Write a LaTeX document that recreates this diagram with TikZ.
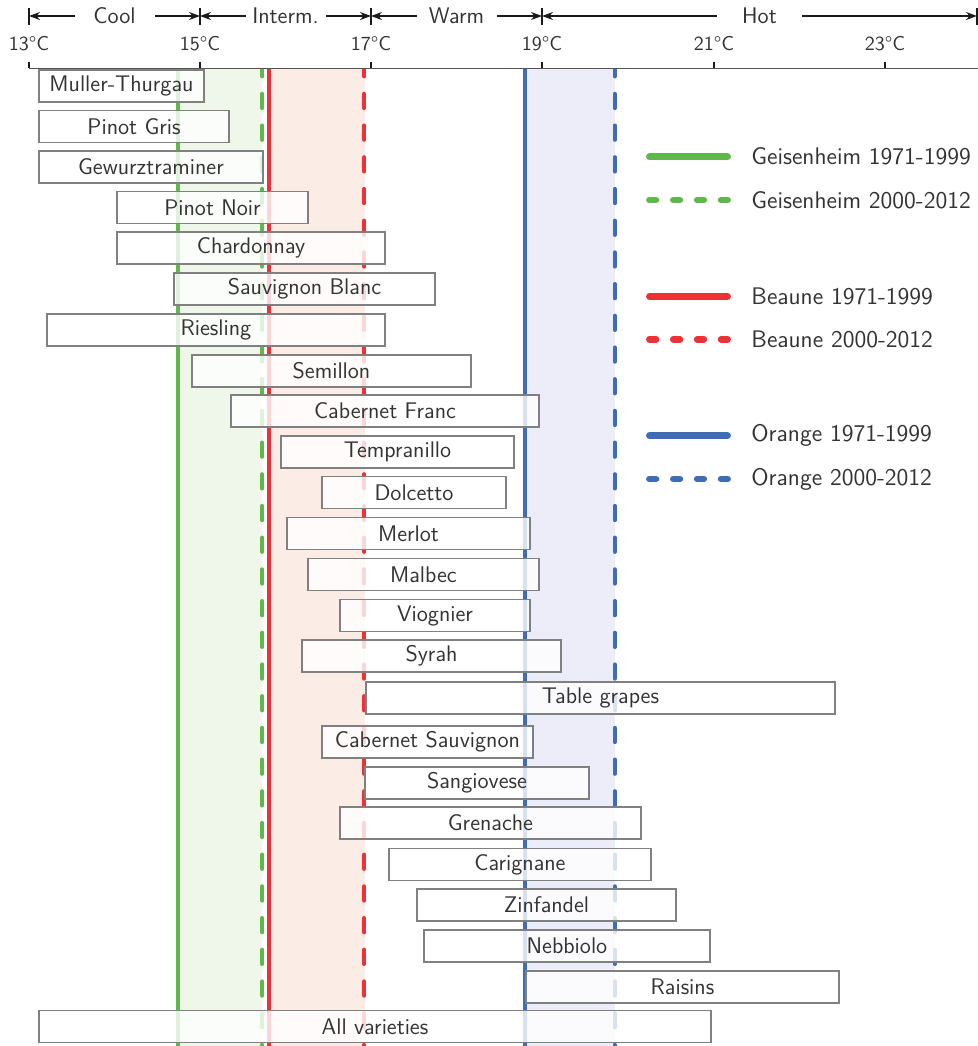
\documentclass[tikz,border=0pt]{standalone}
\usetikzlibrary{arrows.meta}
\definecolor{gline}{RGB}{94,185,74}
\definecolor{rline}{RGB}{237,50,55}
\definecolor{bline}{RGB}{62,108,181}
\definecolor{gband}{RGB}{239,247,234}
\definecolor{rband}{RGB}{252,236,230}
\definecolor{bband}{RGB}{236,237,248}
\definecolor{txt}{RGB}{51,51,51}
\definecolor{boxc}{RGB}{128,128,128}
\definecolor{axisc}{RGB}{85,85,85}
\definecolor{hdrc}{RGB}{26,26,26}
\newcommand\grape[5]{\node[grape, minimum width={(#3-#2)*0.5pt}] (#1) at ({(#2+#3)/2},#4) {#5};}
\begin{document}
\begin{tikzpicture}[x=0.5pt,y=-0.5pt,
  every node/.style={font=\sffamily\fontsize{11.3}{13}\selectfont, text=txt},
  grape/.style={draw=boxc, line width=0.7pt, fill=white, fill opacity=0.8, text opacity=1, draw opacity=1, inner sep=0pt, minimum height=16pt},
  solidln/.style={line width=1.9pt},
  dashln/.style={line width=1.9pt, line cap=round, dash pattern=on 7.25pt off 8.6pt},
  legsolid/.style={line width=3.35pt, line cap=round},
  legdash/.style={line width=3.35pt, line cap=round, dash pattern=on 3.3pt off 8.65pt},
  legtext/.style={anchor=west, inner sep=0pt, font=\sffamily\fontsize{12}{14}\selectfont},
  hdr/.style={draw=hdrc, line width=0.65pt},
  hdrarrow/.style={hdr, {Stealth[length=5.5pt,width=4pt]}-{Stealth[length=5.5pt,width=4pt]}},
  zone/.style={midway, fill=white, minimum width=40pt, inner sep=0pt},
  ticklab/.style={anchor=base, font=\sffamily\fontsize{10}{12}\selectfont},
  tickst/.style={draw=hdrc, line width=0.6pt},
  axisst/.style={draw=axisc, line width=0.75pt}
]
\useasboundingbox (0,0) rectangle (978,1046);
% bands
\fill[gband] (177.7,68.3) rectangle (262.3,1046);
\fill[rband] (268.7,68.3) rectangle (365,1046);
\fill[bband] (525,68.3) rectangle (614.7,1046);
% lines
\begin{scope}
\clip (0,68.6) rectangle (978,1046);
\draw[solidln, gline] (177.7,62) -- (177.7,1050);
\draw[dashln, gline] (262.3,62) -- (262.3,1050);
\draw[solidln, rline] (268.7,62) -- (268.7,1050);
\draw[dashln, rline] (364.3,62) -- (364.3,1050);
\draw[solidln, bline] (525,62) -- (525,1050);
\draw[dashln, bline] (614.7,62) -- (614.7,1050);
\end{scope}
% grape varieties
\grape{mt}{39}{204}{86}{Muller-Thurgau}
\grape{pg}{39}{229}{126.5}{Pinot Gris}
\grape{gw}{39}{263}{167}{Gewurztraminer}
\grape{pn}{117}{308}{207.5}{Pinot Noir}
\grape{ch}{117}{385}{248}{Chardonnay}
\grape{sb}{174}{435}{289}{Sauvignon Blanc}
\grape{ri}{47}{385}{330}{Riesling}
\grape{se}{192}{471}{371}{Semillon}
\grape{cf}{231}{539}{411}{Cabernet Franc}
\grape{te}{281}{514}{452}{Tempranillo}
\grape{do}{322}{506}{492.5}{Dolcetto}
\grape{me}{287}{530}{533.5}{Merlot}
\grape{ma}{308}{539}{574.5}{Malbec}
\grape{vi}{340}{530}{615.5}{Viognier}
\grape{sy}{302}{561}{656}{Syrah}
\grape{tg}{366}{835}{698}{Table grapes}
\grape{cs}{322}{533}{742}{Cabernet Sauvignon}
\grape{sa}{365}{589}{783}{Sangiovese}
\grape{gr}{340}{641}{823}{Grenache}
\grape{ca}{389}{651}{864.5}{Carignane}
\grape{zi}{417}{676}{905}{Zinfandel}
\grape{ne}{424}{710}{946}{Nebbiolo}
\grape{ra}{526}{839}{987}{Raisins}
\grape{av}{39}{711}{1026.5}{All varieties}
% legend
\coordinate (la1) at (649.4,156.7); \coordinate (lb1) at (727.6,156.7);
\coordinate (la2) at (649.4,200);   \coordinate (lb2) at (727.6,200);
\coordinate (la3) at (649.4,296.5); \coordinate (lb3) at (727.6,296.5);
\coordinate (la4) at (649.4,339.3); \coordinate (lb4) at (727.6,339.3);
\coordinate (la5) at (649.4,435.7); \coordinate (lb5) at (727.6,435.7);
\coordinate (la6) at (649.4,479);   \coordinate (lb6) at (727.6,479);
\draw[legsolid, gline] (la1) -- (lb1);
\draw[legdash, gline] (la2) -- (lb2);
\draw[legsolid, rline] (la3) -- (lb3);
\draw[legdash, rline] (la4) -- (lb4);
\draw[legsolid, bline] (la5) -- (lb5);
\draw[legdash, bline] (la6) -- (lb6);
\node[legtext] (lt1) at (751,156.7) {Geisenheim 1971-1999};
\node[legtext] (lt2) at (751,200) {Geisenheim 2000-2012};
\node[legtext] (lt3) at (751,296.5) {Beaune 1971-1999};
\node[legtext] (lt4) at (751,339.3) {Beaune 2000-2012};
\node[legtext] (lt5) at (751,435.7) {Orange 1971-1999};
\node[legtext] (lt6) at (751,479) {Orange 2000-2012};
% axis
\draw[axisst] (29,68.3) -- (978,68.3);
\foreach \x/\t in {29/13,200/15,371/17,542/19,714/21,885/23}{
  \draw[tickst] (\x,61.5) -- (\x,68.3);
  \node[ticklab] (t\t) at (\x,50) {\t\textdegree C};
}
% header
\foreach \x in {29,200,371,542,977}{\draw[hdr] (\x,8) -- (\x,25);}
\draw[hdrarrow] (29,16) -- (200,16) node[zone] (zcool) {Cool};
\draw[hdrarrow] (200,16) -- (371,16) node[zone] (zint) {Interm.};
\draw[hdrarrow] (371,16) -- (542,16) node[zone] (zwarm) {Warm};
\draw[hdrarrow] (542,16) -- (977,16) node[zone, minimum width=42.5pt] (zhot) {Hot};
\end{tikzpicture}
\end{document}
